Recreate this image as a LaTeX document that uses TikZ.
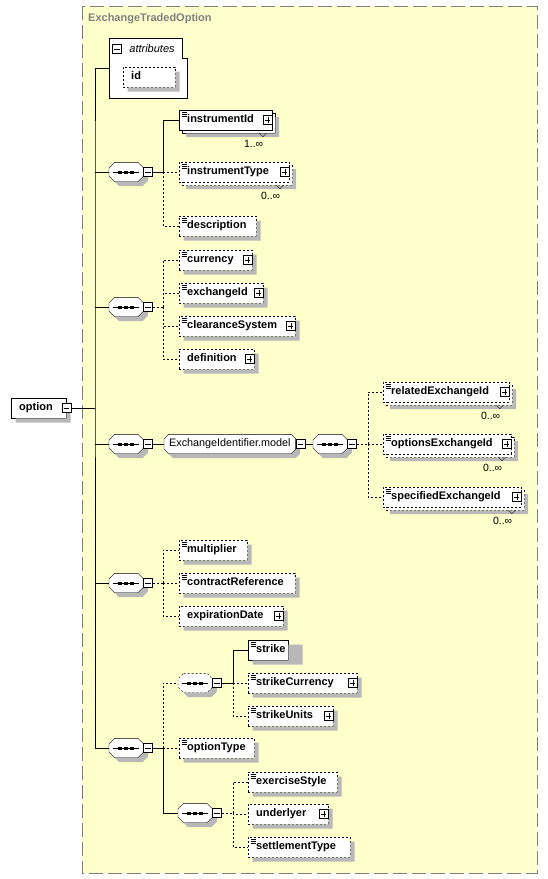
\documentclass[tikz,border=0pt]{standalone}
\usepackage{fontspec}
\setmainfont{Liberation Sans}
\usepackage{tikz}
\usetikzlibrary{shadows}
\hyphenpenalty=10000

\pgfdeclarelayer{back}
\pgfdeclarelayer{shape}
\pgfsetlayers{back,shape,main}

\definecolor{frameyellow}{HTML}{FFFFCC}
\definecolor{framegray}{HTML}{808080}
\definecolor{shadowgray}{HTML}{B8B8B8}

\tikzset{
  every elem/.style={draw, fill=white, anchor=west, minimum height=20pt, inner xsep=8pt, inner ysep=0pt,
    align=left, text height=8pt, text depth=2.5pt, font=\fontsize{11}{13}\selectfont\bfseries},
  elem/.style={every elem, text width=#1},
  melem/.style={every elem, text width=#1,
    copy shadow={shadow xshift=3pt, shadow yshift=-3pt, fill=white, draw, opacity=1}},
  opt/.style={dash pattern=on 2pt off 2pt},
  icon/.style={path picture={
    \foreach \k in {2pt,4pt,6pt}
      \draw[solid, line width=0.7pt] ([shift={(2.5pt,-\k)}]path picture bounding box.north west) -- ++(5pt,0);}},
  seqc/.style={anchor=west, minimum width=34pt, minimum height=19pt, inner sep=0pt},
  grp/.style={anchor=west, minimum height=19pt, inner xsep=5pt, inner ysep=0pt, font=\fontsize{10.8}{13}\selectfont},
  pmbox/.style={draw, fill=white, solid, minimum size=9pt, inner sep=0pt},
  minus/.style={pmbox, path picture={
    \draw ([xshift=1.8pt]path picture bounding box.west) -- ([xshift=-1.8pt]path picture bounding box.east);}},
  plus/.style={pmbox, path picture={
    \draw ([xshift=1.8pt]path picture bounding box.west) -- ([xshift=-1.8pt]path picture bounding box.east);
    \draw ([yshift=-1.8pt]path picture bounding box.north) -- ([yshift=1.8pt]path picture bounding box.south);}},
  occ/.style={anchor=east, inner sep=0pt, font=\fontsize{10.5}{12}\selectfont},
}

\begin{document}
\begin{tikzpicture}[x=1pt, y=-1pt, line width=0.8pt]
\useasboundingbox (0,0) rectangle (547,879);

% complex type frame
\begin{pgfonlayer}{back}
\fill[white] (0,0) rectangle (547,879);
\draw[framegray, fill=frameyellow, dash pattern=on 14pt off 5pt] (82,6) rectangle (537,873);
\end{pgfonlayer}
\node[anchor=west, inner sep=0pt, text=framegray, font=\fontsize{11}{13}\selectfont\bfseries] (title) at (88,19) {ExchangeTradedOption};

% root element
\node[elem=39pt] (option) at (11,408) {option};
\coordinate (spine) at (95,408);

% attributes
\node[minimum width=78pt, minimum height=60pt, inner sep=0pt, anchor=north west] (attrs) at (109,38) {};
\draw[fill=white] (attrs.north west) -- ([xshift=-5pt]attrs.north east) -- ([xshift=-5pt,yshift=-20pt]attrs.north east)
  -- ([yshift=-20pt]attrs.north east) -- (attrs.south east) -- (attrs.south west) -- cycle;
\node[minus] (attrs-m) at (117,49) {};
\node[anchor=west, inner sep=0pt, font=\fontsize{11}{13}\selectfont\itshape] (attrs-t) at ([xshift=7.5pt]attrs-m.east) {attributes};
\node[elem=36pt, opt] (id) at (123,77) {id};

% first sequence
\node[seqc] (seqA) at (109,172) {};
\node[minus, anchor=west] (seqA-m) at (seqA.east) {};
\coordinate (spA) at (163,172);
\node[melem=77pt, icon] (instrumentId) at (179,120) {instrumentId};
\node[melem=94pt, icon, opt] (instrumentType) at (179,172) {instrumentType};
\node[elem=61pt, icon, opt] (description) at (179,226) {description};

% second sequence
\node[seqc] (seqB) at (109,307) {};
\node[minus, anchor=west] (seqB-m) at (seqB.east) {};
\coordinate (spB) at (163,307);
\node[elem=57pt, icon, opt] (currency) at (179,260) {currency};
\node[elem=68pt, icon, opt] (exchangeId) at (179,293) {exchangeId};
\node[elem=100pt, icon, opt] (clearanceSystem) at (179,326) {clearanceSystem};
\node[elem=59pt, opt] (definition) at (179,359) {definition};

% third sequence with group
\node[seqc] (seqC) at (109,444) {};
\node[minus, anchor=west] (seqC-m) at (seqC.east) {};
\node[grp] (model) at (164,444) {ExchangeIdentifier.model};
\node[minus, anchor=west] (model-m) at (model.east) {};
\node[seqc] (seqM) at (313,444) {};
\node[minus, anchor=west] (seqM-m) at (seqM.east) {};
\coordinate (spM) at (368,444);
\node[melem=110pt, icon, opt] (relatedExchangeId) at (383,392) {relatedExchangeId};
\node[melem=112pt, icon, opt] (optionsExchangeId) at (383,444) {optionsExchangeId};
\node[melem=122pt, icon, opt] (specifiedExchangeId) at (383,497) {specifiedExchangeId};

% fourth sequence
\node[seqc] (seqD) at (109,583) {};
\node[minus, anchor=west] (seqD-m) at (seqD.east) {};
\coordinate (spD) at (163,583);
\node[elem=52pt, icon, opt] (multiplier) at (179,550) {multiplier};
\node[elem=100pt, icon, opt] (contractReference) at (179,583) {contractReference};
\node[elem=88pt, opt] (expirationDate) at (179,616) {expirationDate};

% fifth sequence
\node[seqc] (seqE) at (109,748) {};
\node[minus, anchor=west] (seqE-m) at (seqE.east) {};
\coordinate (spE) at (163,748);
\node[seqc] (seqE1) at (178,683) {};
\node[minus, anchor=west] (seqE1-m) at (seqE1.east) {};
\coordinate (spE1) at (233,683);
\node[elem=24pt, icon] (strike) at (248,650) {strike};
\node[elem=93pt, icon, opt] (strikeCurrency) at (248,683) {strikeCurrency};
\node[elem=69pt, icon, opt] (strikeUnits) at (248,716) {strikeUnits};
\node[elem=59pt, icon, opt] (optionType) at (179,748) {optionType};
\node[seqc] (seqE3) at (178,813) {};
\node[minus, anchor=west] (seqE3-m) at (seqE3.east) {};
\coordinate (spE3) at (233,813);
\node[elem=73pt, icon, opt] (exerciseStyle) at (248,782) {exerciseStyle};
\node[elem=64pt, opt] (underlyer) at (248,814) {underlyer};
\node[elem=86pt, icon, opt] (settlementType) at (248,847) {settlementType};

% element shadows: left / box width / shadow width / middle / offset / gap
\foreach \x/\b/\w/\y/\o/\g in {11/55/55/408/4.5/0.4, 123/52/52/77/4.5/0.4, 179/77/77/226/4.5/0.4,
    179/73/73/260/4.5/0.4, 179/84/84/293/4.5/0.4, 179/116/116/326/4.5/0.4, 179/75/75/359/4.5/0.4,
    179/68/68/550/4.5/0.4, 179/116/116/583/4.5/0.4, 179/104/104/616/4.5/0.4, 248/40/50/650/4.5/0.4,
    248/109/109/683/4.5/0.4, 248/85/85/716/4.5/0.4, 179/75/75/748/4.5/0.4, 248/89/89/782/4.5/0.4,
    248/80/80/814/4.5/0.4, 248/102/102/847/4.5/0.4,
    179/93/93/120/7/3.4, 179/110/110/172/7/3.4, 383/126/126/392/7/3.4, 383/128/128/444/7/3.4, 383/138/138/497/7/3.4}
  \fill[shadowgray] (\x+\b+\g,\y-10+\o) -- (\x+\o+\w,\y-10+\o) -- (\x+\o+\w,\y+10+\o) -- (\x+\o,\y+10+\o)
    -- (\x+\o,\y+10+\g) -- (\x+\b+\g,\y+10+\g) -- cycle;
\node[minus] (option-m) at (option.east) {};

% octagon outlines of compositors and group
\begin{pgfonlayer}{shape}
\foreach \s/\k/\c in {seqA/5.5pt/solid, seqB/5.5pt/solid, seqC/5.5pt/solid, seqM/5.5pt/solid, seqD/5.5pt/solid,
    seqE/5.5pt/solid, seqE1/5.5pt/opt, seqE3/5.5pt/solid, model/4.5pt/solid} {
  \fill[shadowgray, transform canvas={shift={(4.5pt,-4.5pt)}}]
    ([xshift=\k]\s.north west) -- ([xshift=-\k]\s.north east) -- ([yshift=-\k]\s.north east) -- ([yshift=\k]\s.south east)
    -- ([xshift=-\k]\s.south east) -- ([xshift=\k]\s.south west) -- ([yshift=\k]\s.south west) -- ([yshift=-\k]\s.north west) -- cycle;
  \draw[fill=white, \c]
    ([xshift=\k]\s.north west) -- ([xshift=-\k]\s.north east) -- ([yshift=-\k]\s.north east) -- ([yshift=\k]\s.south east)
    -- ([xshift=-\k]\s.south east) -- ([xshift=\k]\s.south west) -- ([yshift=\k]\s.south west) -- ([yshift=-\k]\s.north west) -- cycle;
}
\foreach \s in {seqA, seqB, seqC, seqM, seqD, seqE, seqE1, seqE3} {
  \draw ([xshift=4pt]\s.west) -- ([xshift=-4pt]\s.east);
  \foreach \d in {-6pt,0pt,6pt}
    \fill ([xshift=\d]\s.center) ++(-2pt,-1.5pt) rectangle ++(4pt,3pt);
}
\end{pgfonlayer}

% expand boxes
\foreach \n in {instrumentId, instrumentType, currency, exchangeId, clearanceSystem, definition,
  relatedExchangeId, optionsExchangeId, specifiedExchangeId, expirationDate, strikeCurrency, strikeUnits, underlyer}
  \node[plus, anchor=east] (\n-p) at (\n.east) {};

% occurrences
\foreach \n/\m in {instrumentId/1, instrumentType/0, relatedExchangeId/0, optionsExchangeId/0, specifiedExchangeId/0} {
  \draw ([shift={(-13pt,-3pt)}]\n.south east) -- ([shift={(-9.5pt,-6.5pt)}]\n.south east) -- ([shift={(-6pt,-3pt)}]\n.south east);
  \node[occ] (\n-o) at ([shift={(-9pt,-14pt)}]\n.south east) {\m..∞};
}

% connectors
\draw (option-m.east) -- (option-m.east -| spine);
\draw (attrs.west) -| (spine |- seqA.west) |- (seqE.west);
\draw (seqA.west) -- (seqA.west -| spine);
\draw (seqB.west) -- (seqB.west -| spine);
\draw (seqC.west) -- (seqC.west -| spine);
\draw (seqD.west) -- (seqD.west -| spine);

\draw (seqA-m.east) -- (spA) |- (instrumentId.west);
\draw[opt] (spA) |- (instrumentType.west);
\draw[opt] (spA) |- (description.west);

\draw[opt] (seqB-m.east) -- (spB);
\foreach \n in {currency, exchangeId, clearanceSystem, definition}
  \draw[opt] (spB) |- (\n.west);

\draw (seqC-m.east) -- (model.west);
\draw (model-m.east) -- (seqM.west);
\draw[opt] (seqM-m.east) -- (spM);
\foreach \n in {relatedExchangeId, optionsExchangeId, specifiedExchangeId}
  \draw[opt] (spM) |- (\n.west);

\draw[opt] (seqD-m.east) -- (spD);
\foreach \n in {multiplier, contractReference, expirationDate}
  \draw[opt] (spD) |- (\n.west);

\draw (seqE-m.east) -- (spE) |- (seqE3.west);
\draw[opt] (spE) |- (seqE1.west);
\draw[opt] (spE) |- (optionType.west);

\draw (seqE1-m.east) -- (spE1) |- (strike.west);
\draw[opt] (spE1) |- (strikeCurrency.west);
\draw[opt] (spE1) |- (strikeUnits.west);

\draw[opt] (seqE3-m.east) -- (spE3);
\foreach \n in {exerciseStyle, underlyer, settlementType}
  \draw[opt] (spE3) |- (\n.west);
\end{tikzpicture}
\end{document}
